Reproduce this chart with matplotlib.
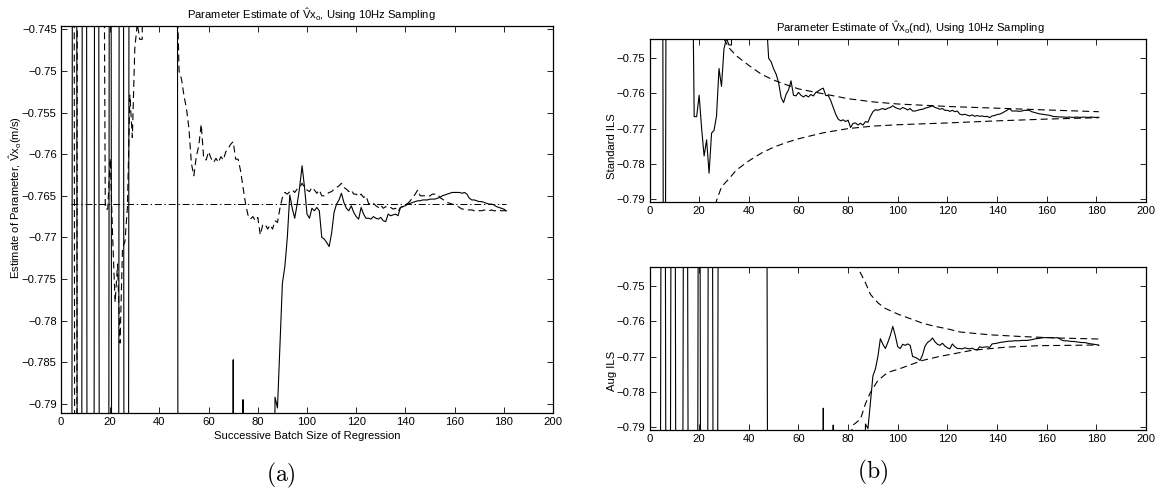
import numpy as np
import matplotlib
matplotlib.use("Agg")
import matplotlib.pyplot as plt
from matplotlib.ticker import FuncFormatter, FixedLocator

plt.rcParams['font.family'] = ['Liberation Sans', 'DejaVu Sans']
plt.rcParams['mathtext.fontset'] = 'custom'
plt.rcParams['mathtext.rm'] = 'Liberation Sans'
plt.rcParams['mathtext.it'] = 'Liberation Sans'
plt.rcParams['mathtext.bf'] = 'Liberation Sans'
plt.rcParams['lines.scale_dashes'] = False

# ---------------- data (batch sizes 4..181) ----------------
first_batch = 4

# Augmented ILS estimate (values far outside the window are wild early estimates)
aug_ils = [
    -0.95, -0.60, -0.58, -0.97, -0.94, -0.62, -0.59, -0.96, -0.93, -0.95,
    -0.61, -0.63, -0.94, -0.97, -0.92, -0.95, -0.60, -0.96, -0.93, -0.95,
    -0.62, -0.60, -0.94, -0.96, -0.61, -0.64, -0.60, -0.66, -0.62, -0.65,
    -0.63, -0.60, -0.67, -0.64, -0.62, -0.66, -0.61, -0.65, -0.63, -0.68,
    -0.64, -0.62, -0.60, -0.63, -0.95, -0.92, -0.97, -0.93, -0.96, -0.94,
    -0.91, -0.95, -0.93, -0.96, -0.92, -0.94, -0.95, -0.93, -0.91, -0.94,
    -0.96, -0.92, -0.93, -0.95, -0.94, -0.92, -0.7847, -0.93, -0.95, -0.92,
    -0.7895, -0.94, -0.92, -0.95, -0.93, -0.91, -0.94, -0.92, -0.95, -0.93,
    -0.91, -0.90, -0.85, -0.7892, -0.7905, -0.7830, -0.7755, -0.7735, -0.7700, -0.7649,
    -0.7665, -0.7677, -0.7660, -0.7640, -0.7614, -0.7640, -0.7672, -0.7677, -0.7665, -0.7668,
    -0.7664, -0.7668, -0.7700, -0.7702, -0.7706, -0.7711, -0.7695, -0.7670, -0.7660, -0.7655,
    -0.7647, -0.7658, -0.7665, -0.7668, -0.7662, -0.7670, -0.7675, -0.7678, -0.7664, -0.7672,
    -0.7677, -0.7677, -0.7678, -0.7675, -0.7677, -0.7678, -0.7676, -0.7680, -0.7681, -0.7672,
    -0.7674, -0.7673, -0.7672, -0.7674, -0.7664, -0.7663, -0.7662, -0.7660, -0.7659, -0.7658,
    -0.7657, -0.7656, -0.7656, -0.7655, -0.7655, -0.7655, -0.7654, -0.7654, -0.7654, -0.7653,
    -0.7652, -0.7650, -0.7649, -0.7648, -0.7647, -0.7646, -0.7646, -0.7646, -0.7646, -0.7647,
    -0.7646, -0.7648, -0.7653, -0.7655, -0.7655, -0.7656, -0.7657, -0.7657, -0.7658, -0.7659,
    -0.7660, -0.7660, -0.7661, -0.7663, -0.7664, -0.7665, -0.7666, -0.7668,
]

# Standard ILS estimate
std_ils = [
    -0.60, -0.62, -0.95, -0.61, -0.64, -0.60, -0.63, -0.66, -0.62, -0.65,
    -0.61, -0.63, -0.60, -0.70, -0.7666, -0.7666, -0.7605, -0.7700, -0.7778, -0.7732,
    -0.7827, -0.7713, -0.7705, -0.7664, -0.7529, -0.7580, -0.7473, -0.7443, -0.7462, -0.7462,
    -0.70, -0.66, -0.63, -0.61, -0.64, -0.62, -0.60, -0.65, -0.63, -0.66,
    -0.68, -0.70, -0.72, -0.738, -0.7500, -0.7510, -0.7530, -0.7545, -0.7569, -0.7611,
    -0.7626, -0.7603, -0.7590, -0.7564, -0.7605, -0.7607, -0.7597, -0.7605, -0.7610, -0.7605,
    -0.7610, -0.7603, -0.7607, -0.7597, -0.7593, -0.7588, -0.7585, -0.7606, -0.7606, -0.7620,
    -0.7640, -0.7659, -0.7673, -0.7678, -0.7675, -0.7680, -0.7676, -0.7697, -0.7685, -0.7684,
    -0.7690, -0.7685, -0.7690, -0.7680, -0.7682, -0.7665, -0.7652, -0.7646, -0.7648, -0.7645,
    -0.7643, -0.7646, -0.7642, -0.7640, -0.7635, -0.7640, -0.7643, -0.7645, -0.7640, -0.7643,
    -0.7647, -0.7643, -0.7650, -0.7650, -0.7648, -0.7646, -0.7645, -0.7642, -0.7640, -0.7638,
    -0.7635, -0.7640, -0.7642, -0.7645, -0.7643, -0.7648, -0.7648, -0.7651, -0.7648, -0.7652,
    -0.7650, -0.7659, -0.7661, -0.7659, -0.7662, -0.7664, -0.7661, -0.7665, -0.7663, -0.7665,
    -0.7664, -0.7666, -0.7665, -0.7669, -0.7664, -0.7663, -0.7660, -0.7659, -0.7656, -0.7652,
    -0.7648, -0.7643, -0.7650, -0.7650, -0.7650, -0.7651, -0.7650, -0.7648, -0.7648, -0.7648,
    -0.7652, -0.7654, -0.7656, -0.7658, -0.7659, -0.7660, -0.7661, -0.7662, -0.7664, -0.7666,
    -0.7666, -0.7667, -0.7667, -0.7667, -0.7668, -0.7667, -0.7668, -0.7668, -0.7667, -0.7668,
    -0.7668, -0.7667, -0.7668, -0.7668, -0.7667, -0.7668, -0.7668, -0.7668,
]

# reference (true) value line
true_batch = [4, 181]
true_value = [-0.766, -0.766]

# confidence bounds, Standard ILS
std_up_batch = [28, 30, 32, 35, 40, 45, 50, 55, 60, 70, 80, 90, 100, 120, 140, 160, 181]
std_up_value = [-0.7415, -0.7445, -0.7470, -0.7493, -0.7520, -0.7545, -0.7562, -0.7575, -0.7587,
                -0.7601, -0.7615, -0.7624, -0.7630, -0.7637, -0.7642, -0.7647, -0.7652]
std_lo_batch = [26, 27, 29, 32, 35, 40, 45, 50, 55, 60, 70, 80, 90, 100, 120, 140, 160, 181]
std_lo_value = [-0.7950, -0.7905, -0.7866, -0.7843, -0.7818, -0.7792, -0.7770, -0.7753, -0.7740,
                -0.7729, -0.7712, -0.7700, -0.7693, -0.7689, -0.7684, -0.7678, -0.7673, -0.7669]

# confidence bounds, Augmented ILS
aug_up_batch = [83, 84, 85, 87, 89, 92, 95, 100, 105, 110, 115, 120, 125, 137, 150, 164, 181]
aug_up_value = [-0.7430, -0.7450, -0.7462, -0.7490, -0.7523, -0.7547, -0.7563, -0.7579, -0.7592,
                -0.7605, -0.7614, -0.7621, -0.7630, -0.7638, -0.7643, -0.7647, -0.7650]
aug_lo_batch = [81, 82, 85, 87, 89, 92, 96, 101, 106, 110, 116, 121, 130, 144, 157, 181]
aug_lo_value = [-0.7925, -0.7895, -0.7878, -0.7834, -0.7802, -0.7768, -0.7745, -0.7734, -0.7721,
                -0.7711, -0.7701, -0.7694, -0.7682, -0.7673, -0.7669, -0.7667]

x_ticks = [0, 20, 40, 60, 80, 100, 120, 140, 160, 180, 200]
left_yticks = [-0.79, -0.785, -0.78, -0.775, -0.77, -0.765, -0.76, -0.755, -0.75, -0.745]
right_yticks = [-0.79, -0.78, -0.77, -0.76, -0.75]

batch_aug = np.arange(first_batch, first_batch + len(aug_ils))
batch_std = np.arange(first_batch, first_batch + len(std_ils))

# ---------------- figure ----------------
W, H = 1161, 492
fig = plt.figure(figsize=(W / 100, H / 100), dpi=100)


def px_axes(x0, y0, x1, y1):
    return fig.add_axes([x0 / W, 1 - y1 / H, (x1 - x0) / W, (y1 - y0) / H])


ax_a = px_axes(61, 26, 553, 413)
ax_s = px_axes(649.5, 39, 1146, 202)
ax_g = px_axes(649.5, 267, 1146, 430)

LW = 0.8
DASH = (5.0, 3.0)
DASHDOT = (5.0, 2.0, 1.0, 2.0)
FS = 8.1

fmt = FuncFormatter(lambda v, _: ('%g' % round(v, 4)).replace('-', '\u2212'))


def style(ax, yticks, ylim):
    ax.set_xlim(0, 200)
    ax.set_ylim(*ylim)
    ax.xaxis.set_major_locator(FixedLocator(x_ticks))
    ax.yaxis.set_major_locator(FixedLocator(yticks))
    ax.yaxis.set_major_formatter(fmt)
    ax.tick_params(direction='in', top=True, right=True, length=4, width=0.6,
                   labelsize=FS, pad=3)
    for s in ax.spines.values():
        s.set_linewidth(0.9)


# (a)
ax_a.plot(batch_aug, aug_ils, color='black', lw=LW)
ax_a.plot(batch_std, std_ils, color='black', lw=LW, linestyle=(0, DASH))
ax_a.plot(true_batch, true_value, color='black', lw=0.7, linestyle=(0, DASHDOT))
style(ax_a, left_yticks, (-0.7911, -0.7446))

# (b) top: Standard ILS
ax_s.plot(batch_std, std_ils, color='black', lw=LW)
ax_s.plot(std_up_batch, std_up_value, color='black', lw=LW, linestyle=(0, DASH))
ax_s.plot(std_lo_batch, std_lo_value, color='black', lw=LW, linestyle=(0, DASH))
style(ax_s, right_yticks, (-0.7909, -0.7445))

# (b) bottom: Aug ILS
ax_g.plot(batch_aug, aug_ils, color='black', lw=LW)
ax_g.plot(aug_up_batch, aug_up_value, color='black', lw=LW, linestyle=(0, DASH))
ax_g.plot(aug_lo_batch, aug_lo_value, color='black', lw=LW, linestyle=(0, DASH))
style(ax_g, right_yticks, (-0.7909, -0.7445))

VX = r'$\hat{\mathrm{V}}\mathrm{x}_{\mathrm{o}}$'
fig.text(311 / W, 1 - 15 / H, 'Parameter Estimate of ' + VX + ', Using 10Hz Sampling',
         ha='center', va='center', fontsize=FS)
fig.text(910 / W, 1 - 28 / H, 'Parameter Estimate of ' + VX + '(nd), Using 10Hz Sampling',
         ha='center', va='center', fontsize=FS)
fig.text(307 / W, 1 - 436 / H, 'Successive Batch Size of Regression',
         ha='center', va='center', fontsize=FS)
fig.text(16 / W, 1 - 198 / H, 'Estimate of Parameter, ' + VX + '(m/s)',
         ha='center', va='center', rotation=90, fontsize=FS)
fig.text(612 / W, 1 - 146 / H, 'Standard ILS', ha='center', va='center',
         rotation=90, fontsize=FS)
fig.text(612 / W, 1 - 371 / H, 'Aug ILS', ha='center', va='center',
         rotation=90, fontsize=FS)
fig.text(281 / W, 1 - 475 / H, r'$\mathrm{(a)}$', math_fontfamily='cm',
         ha='center', va='center', fontsize=17)
fig.text(873 / W, 1 - 472 / H, r'$\mathrm{(b)}$', math_fontfamily='cm',
         ha='center', va='center', fontsize=17)

fig.savefig('out.png', dpi=100)
